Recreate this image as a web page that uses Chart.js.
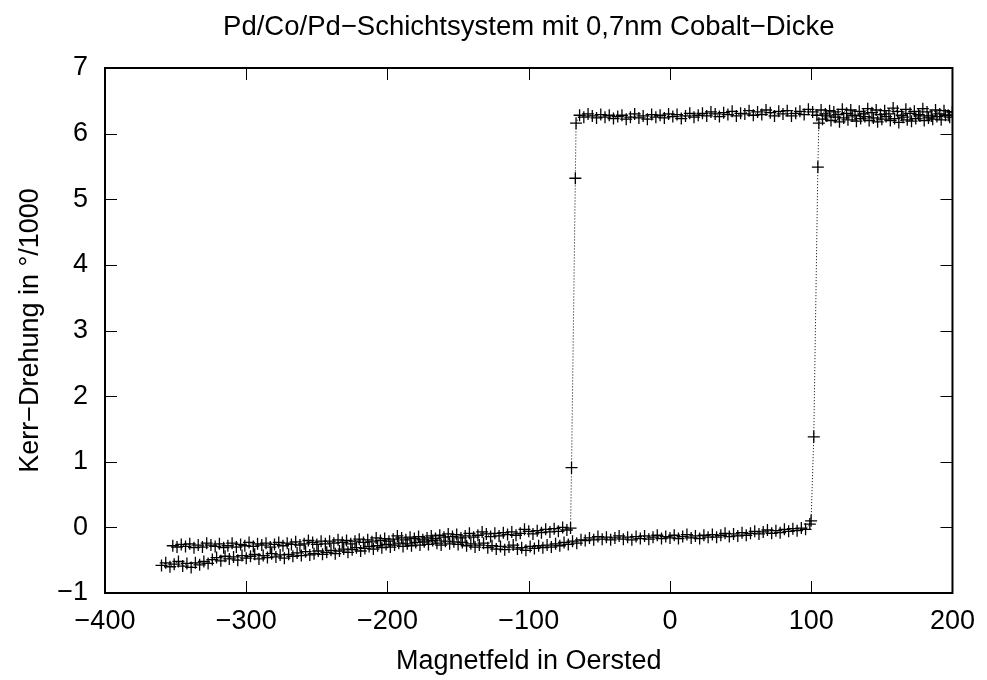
<!DOCTYPE html>
<html>
<head>
  <title>Pd/Co/Pd Hysterese</title>
  <script src="https://cdn.jsdelivr.net/npm/chart.js@4/dist/chart.umd.min.js"></script>
  <style>
    body { margin: 0; background: #fff; }
  </style>
</head>
<body>
  <canvas id="kerr" width="987" height="680"></canvas>
  <script>
    // Feld absteigend: von +200 Oe bis -352 Oe
    var fieldDown = [
      200, 197, 194, 191, 188, 185, 182, 179, 176, 173,
      170, 167, 164, 161, 158, 155, 152, 149, 146, 143,
      140, 137, 134, 131, 128, 125, 122, 119, 116, 113,
      110, 107, 104, 101, 98, 95, 92, 89, 86, 83,
      80, 77, 74, 71, 68, 65, 62, 59, 56, 53,
      50, 47, 44, 41, 38, 35, 32, 29, 26, 23,
      20, 17, 14, 11, 8, 5, 2, -1, -4, -7,
      -10, -13, -16, -19, -22, -25, -28, -31, -34, -37,
      -40, -43, -46, -49, -52, -55, -58, -61, -64, -66.5,
      -67, -69.7, -70.4, -73, -76, -79, -82, -85, -88, -91,
      -94, -97, -100, -103, -106, -109, -112, -115, -118, -121,
      -124, -127, -130, -133, -136, -139, -142, -145, -148, -151,
      -154, -157, -160, -163, -166, -169, -172, -175, -178, -181,
      -184, -187, -190, -193, -196, -199, -202, -205, -208, -211,
      -214, -217, -220, -223, -226, -229, -232, -235, -238, -241,
      -244, -247, -250, -253, -256, -259, -262, -265, -268, -271,
      -274, -277, -280, -283, -286, -289, -292, -295, -298, -301,
      -304, -307, -310, -313, -316, -319, -322, -325, -328, -331,
      -334, -337, -340, -343, -346, -349, -352
    ];
    var kerrDown = [
      6.33, 6.28, 6.35, 6.30, 6.36, 6.27, 6.33, 6.38, 6.29, 6.34,
      6.31, 6.37, 6.28, 6.34, 6.39, 6.30, 6.35, 6.29, 6.36, 6.32,
      6.38, 6.30, 6.34, 6.28, 6.36, 6.31, 6.37, 6.29, 6.33, 6.35,
      6.30, 6.36, 6.28, 6.33, 6.37, 6.29, 6.34, 6.31, 6.27, 6.35,
      6.30, 6.34, 6.27, 6.32, 6.36, 6.29, 6.33, 6.28, 6.35, 6.30,
      6.31, 6.27, 6.34, 6.29, 6.32, 6.26, 6.30, 6.33, 6.27, 6.31,
      6.28, 6.25, 6.31, 6.27, 6.23, 6.29, 6.26, 6.30, 6.24, 6.28,
      6.25, 6.29, 6.22, 6.27, 6.24, 6.30, 6.25, 6.22, 6.28, 6.26,
      6.23, 6.28, 6.25, 6.29, 6.24, 6.27, 6.30, 6.25, 6.28, 6.16,
      5.32, 0.91, -0.01, -0.04, 0.00, -0.06, -0.02, -0.07, -0.03, -0.08,
      -0.05, -0.10, -0.06, -0.03, -0.09, -0.12, -0.07, -0.11, -0.08, -0.13,
      -0.09, -0.14, -0.10, -0.07, -0.12, -0.15, -0.09, -0.13, -0.16, -0.11,
      -0.14, -0.10, -0.15, -0.12, -0.17, -0.13, -0.16, -0.19, -0.14, -0.17,
      -0.15, -0.19, -0.16, -0.13, -0.18, -0.21, -0.17, -0.20, -0.16, -0.22,
      -0.19, -0.23, -0.18, -0.21, -0.25, -0.20, -0.23, -0.19, -0.24, -0.21,
      -0.25, -0.21, -0.26, -0.23, -0.20, -0.25, -0.27, -0.22, -0.26, -0.24,
      -0.28, -0.23, -0.26, -0.30, -0.24, -0.27, -0.25, -0.29, -0.23, -0.28,
      -0.26, -0.30, -0.24, -0.28, -0.31, -0.25, -0.29, -0.27, -0.24, -0.30,
      -0.27, -0.31, -0.25, -0.29, -0.26, -0.30, -0.28
    ];

    // Feld aufsteigend: von -360 Oe bis +200 Oe
    var fieldUp = [
      -360, -357, -354, -351, -348, -345, -342, -339, -336, -333,
      -330, -327, -324, -321, -318, -315, -312, -309, -306, -303,
      -300, -297, -294, -291, -288, -285, -282, -279, -276, -273,
      -270, -267, -264, -261, -258, -255, -252, -249, -246, -243,
      -240, -237, -234, -231, -228, -225, -222, -219, -216, -213,
      -210, -207, -204, -201, -198, -195, -192, -189, -186, -183,
      -180, -177, -174, -171, -168, -165, -162, -159, -156, -153,
      -150, -147, -144, -141, -138, -135, -132, -129, -126, -123,
      -120, -117, -114, -111, -108, -105, -102, -99, -96, -93,
      -90, -87, -84, -81, -78, -75, -72, -69, -66, -63,
      -60, -57, -54, -51, -48, -45, -42, -39, -36, -33,
      -30, -27, -24, -21, -18, -15, -12, -9, -6, -3,
      0, 3, 6, 9, 12, 15, 18, 21, 24, 27,
      30, 33, 36, 39, 42, 45, 48, 51, 54, 57,
      60, 63, 66, 69, 72, 75, 78, 81, 84, 87,
      90, 93, 96, 99, 99.9, 101.8, 104.7, 105.4, 108, 111,
      114, 117, 120, 123, 126, 129, 132, 135, 138, 141,
      144, 147, 150, 153, 156, 159, 162, 165, 168, 171,
      174, 177, 180, 183, 186, 189, 192, 195, 198, 200
    ];
    var kerrUp = [
      -0.58, -0.54, -0.60, -0.56, -0.52, -0.59, -0.55, -0.61, -0.54, -0.57,
      -0.52, -0.55, -0.49, -0.46, -0.51, -0.44, -0.48, -0.45, -0.50, -0.43,
      -0.47, -0.44, -0.41, -0.48, -0.43, -0.46, -0.40, -0.45, -0.42, -0.47,
      -0.41, -0.44, -0.39, -0.43, -0.37, -0.42, -0.40, -0.36, -0.41, -0.38,
      -0.35, -0.40, -0.36, -0.33, -0.38, -0.34, -0.31, -0.36, -0.32, -0.29,
      -0.33, -0.28, -0.31, -0.26, -0.30, -0.27, -0.24, -0.29, -0.25, -0.28,
      -0.23, -0.27, -0.22, -0.26, -0.20, -0.24, -0.27, -0.21, -0.25, -0.22,
      -0.26, -0.23, -0.28, -0.25, -0.30, -0.27, -0.24, -0.31, -0.28, -0.33,
      -0.29, -0.34, -0.30, -0.27, -0.33, -0.31, -0.35, -0.29, -0.32, -0.28,
      -0.31, -0.27, -0.30, -0.25, -0.28, -0.23, -0.26, -0.21, -0.24, -0.19,
      -0.20, -0.16, -0.19, -0.14, -0.18, -0.15, -0.19, -0.16, -0.13, -0.18,
      -0.15, -0.19, -0.14, -0.17, -0.13, -0.18, -0.15, -0.12, -0.17, -0.14,
      -0.16, -0.12, -0.17, -0.14, -0.11, -0.16, -0.13, -0.17, -0.12, -0.15,
      -0.11, -0.15, -0.12, -0.09, -0.14, -0.10, -0.13, -0.08, -0.12, -0.09,
      -0.06, -0.10, -0.07, -0.04, -0.09, -0.05, -0.08, -0.03, -0.06, -0.02,
      -0.05, -0.01, -0.03, 0.05, 0.10, 1.38, 5.49, 6.16, 6.22, 6.27,
      6.20, 6.25, 6.18, 6.24, 6.21, 6.27, 6.19, 6.23, 6.26, 6.20,
      6.24, 6.18, 6.22, 6.26, 6.20, 6.23, 6.17, 6.25, 6.21, 6.19,
      6.23, 6.27, 6.20, 6.24, 6.22, 6.26, 6.21, 6.28, 6.25, 6.33
    ];

    var xTicks = [-400, -300, -200, -100, 0, 100, 200];
    var yTicks = [-1, 0, 1, 2, 3, 4, 5, 6, 7];

    var titleText = 'Pd/Co/Pd\u2212Schichtsystem mit 0,7nm Cobalt\u2212Dicke';
    var xTitle = 'Magnetfeld in Oersted';
    var yTitle = 'Kerr\u2212Drehung in \u00b0/1000';

    function toPoints(xs, ys) {
      return xs.map(function(v, i) { return { x: v, y: ys[i] }; });
    }

    function minus(v) {
      return String(v).replace('-', '\u2212');
    }

    // gnuplot-artiger Rahmen mit Ticks nach innen auf allen Seiten
    var frameTicks = {
      id: 'frameTicks',
      afterLayout: function(chart) {
        // Titel über der Plotfläche zentrieren
        if (chart.titleBlock) {
          chart.titleBlock.left = chart.chartArea.left;
          chart.titleBlock.right = chart.chartArea.right;
        }
      },
      afterDatasetsDraw: function(chart) {
        var ctx = chart.ctx;
        var a = chart.chartArea;
        var xs = chart.scales.x, ys = chart.scales.y;
        var len = 12;
        ctx.save();
        ctx.strokeStyle = '#000';
        ctx.lineWidth = 1;
        ctx.beginPath();
        xs.ticks.forEach(function(t) {
          var px = Math.round(xs.getPixelForValue(t.value)) + 0.5;
          ctx.moveTo(px, a.bottom); ctx.lineTo(px, a.bottom - len);
          ctx.moveTo(px, a.top); ctx.lineTo(px, a.top + len);
        });
        ys.ticks.forEach(function(t) {
          var py = Math.round(ys.getPixelForValue(t.value)) + 0.5;
          ctx.moveTo(a.left, py); ctx.lineTo(a.left + len, py);
          ctx.moveTo(a.right, py); ctx.lineTo(a.right - len, py);
        });
        ctx.stroke();
        ctx.lineWidth = 2;
        ctx.strokeRect(a.left, a.top, a.right - a.left, a.bottom - a.top);
        ctx.restore();
      }
    };

    var font = { family: "'Liberation Sans', Arial, sans-serif", size: 27, lineHeight: 1.2 };

    function branch(xs, ys) {
      return {
        data: toPoints(xs, ys),
        showLine: true,
        borderColor: '#000',
        borderWidth: 1,
        borderDash: [1, 2],
        pointStyle: 'cross',
        pointRadius: 6,
        pointBorderWidth: 1.3,
        pointBorderColor: '#000',
        pointBackgroundColor: '#000',
        tension: 0
      };
    }

    new Chart(document.getElementById('kerr'), {
      type: 'scatter',
      data: {
        datasets: [branch(fieldDown, kerrDown), branch(fieldUp, kerrUp)]
      },
      options: {
        responsive: false,
        animation: false,
        devicePixelRatio: 1,
        layout: { padding: { left: 0, right: 32, top: 0, bottom: 0 } },
        plugins: {
          legend: { display: false },
          tooltip: { enabled: false },
          title: {
            display: true,
            text: titleText,
            color: '#000',
            font: { family: font.family, size: 27.5, weight: 'normal', lineHeight: 1.2 },
            padding: { top: 11, bottom: 24 }
          }
        },
        scales: {
          x: {
            type: 'linear',
            min: -400,
            max: 200,
            afterBuildTicks: function(scale) {
              scale.ticks = xTicks.map(function(v) { return { value: v }; });
            },
            afterFit: function(scale) { scale.height = 87; },
            grid: { display: false, drawTicks: false },
            border: { display: false },
            ticks: {
              color: '#000',
              font: font,
              padding: 12,
              maxRotation: 0,
              callback: function(v) { return minus(v); }
            },
            title: {
              display: true,
              text: xTitle,
              color: '#000',
              font: font,
              padding: { top: 0, bottom: 2 }
            }
          },
          y: {
            type: 'linear',
            min: -1,
            max: 7,
            afterBuildTicks: function(scale) {
              scale.ticks = yTicks.map(function(v) { return { value: v }; });
            },
            afterFit: function(scale) { scale.width = 105; },
            grid: { display: false, drawTicks: false },
            border: { display: false },
            ticks: {
              color: '#000',
              font: font,
              padding: 17,
              callback: function(v) { return minus(v); }
            },
            title: {
              display: true,
              text: yTitle,
              color: '#000',
              font: font,
              padding: { top: 14, bottom: 0 }
            }
          }
        }
      },
      plugins: [frameTicks]
    });
  </script>
</body>
</html>
